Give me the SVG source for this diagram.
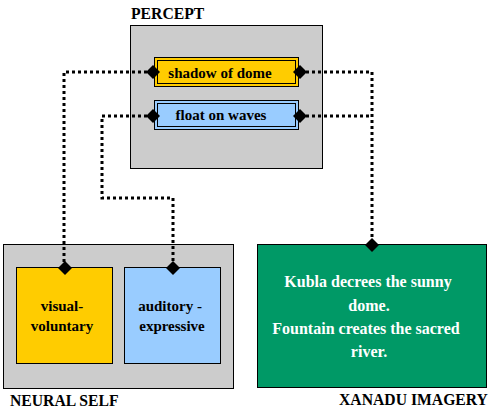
<svg xmlns="http://www.w3.org/2000/svg" xmlns:xlink="http://www.w3.org/1999/xlink" width="491" height="415" viewBox="0 0 491 415">
<style>
.frame{fill:#CCCCCC;stroke:#000;stroke-width:1}
.yellow{fill:#FFCC00;stroke:#000;stroke-width:1}
.blue{fill:#99CCFF;stroke:#000;stroke-width:1}
.inner{fill:none;stroke:#000;stroke-width:1}
.green{fill:#009966;stroke:#000;stroke-width:1}
text{font-family:'Liberation Serif','Times New Roman','DejaVu Serif',serif;font-weight:bold}
.lbl{font-size:15.7px;fill:#000}
.nt{font-size:15px;fill:#000;text-anchor:middle}
.wt{font-size:16px;fill:#fff;text-anchor:middle}
.conn{fill:none;stroke:#000;stroke-width:3;stroke-dasharray:3 3}
</style>
<defs>
<polygon id="dia" points="0,-7 7,0 0,7 -7,0" fill="#000"/>
</defs>
<rect width="491" height="415" fill="#fff"/>
<g id="percept">
<rect class="frame" x="130.5" y="25.5" width="192" height="143"/>
<text class="lbl" x="131" y="19">PERCEPT</text>
</g>
<g id="neural-self">
<rect class="frame" x="3.5" y="244.5" width="230" height="144"/>
<text class="lbl" x="10" y="406">NEURAL SELF</text>
</g>
<g id="connectors">
<polyline class="conn" points="153,72 64,72 64,268"/>
<polyline class="conn" points="153,116 102,116 102,198 173,198 173,268"/>
<polyline class="conn" points="300,72 372,72 372,245"/>
<polyline class="conn" points="300,116 372,116"/>
</g>
<g id="shadow-of-dome">
<rect class="yellow" x="154.5" y="57.5" width="144" height="29"/>
<rect class="inner" x="157.5" y="60.5" width="138" height="23"/>
<text class="nt" x="220" y="78">shadow of dome</text>
<use xlink:href="#dia" x="153" y="72"/>
<use xlink:href="#dia" x="300" y="72"/>
</g>
<g id="float-on-waves">
<rect class="blue" x="154.5" y="100.5" width="144" height="29"/>
<rect class="inner" x="157.5" y="103.5" width="138" height="23"/>
<text class="nt" x="221" y="120">float on waves</text>
<use xlink:href="#dia" x="153" y="116"/>
<use xlink:href="#dia" x="300" y="116"/>
</g>
<g id="visual-voluntary">
<rect class="yellow" x="16.5" y="267.5" width="96" height="96"/>
<text class="nt" x="62" y="311">visual-</text>
<text class="nt" x="62" y="331">voluntary</text>
<use xlink:href="#dia" x="65" y="268"/>
</g>
<g id="auditory-expressive">
<rect class="blue" x="124.5" y="267.5" width="96" height="96"/>
<text class="nt" x="170" y="311">auditory -</text>
<text class="nt" x="172" y="331">expressive</text>
<use xlink:href="#dia" x="173" y="268"/>
</g>
<g id="xanadu-imagery">
<rect class="green" x="257.5" y="244.5" width="229" height="143"/>
<text class="wt" x="368" y="287">Kubla decrees the sunny</text>
<text class="wt" x="369" y="311">dome.</text>
<text class="wt" x="366" y="334">Fountain creates the sacred</text>
<text class="wt" x="369" y="357">river.</text>
<use xlink:href="#dia" x="372" y="245"/>
<text class="lbl" x="339" y="405">XANADU IMAGERY</text>
</g>
</svg>
